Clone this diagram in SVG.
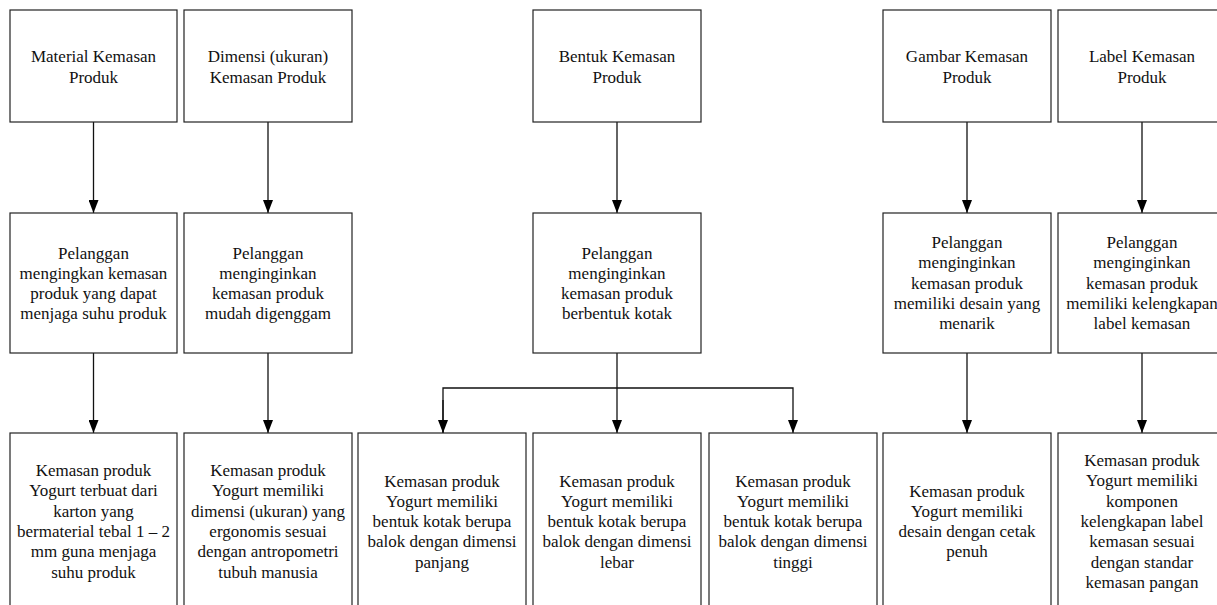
<svg xmlns="http://www.w3.org/2000/svg" width="1217" height="605" viewBox="0 0 1217 605">
<style>
.box{fill:#fff;stroke:#222;stroke-width:1.2}
.t{font-family:"Liberation Serif","Times New Roman",serif;font-size:17px;fill:#111;text-anchor:middle}
.c{fill:none;stroke:#111;stroke-width:1.3}
</style>
<defs>
<marker id="ah" viewBox="0 0 13 10" refX="13" refY="5" markerWidth="13" markerHeight="10" markerUnits="userSpaceOnUse" orient="auto">
<path d="M0,0 L13,5 L0,10 z" fill="#000"/>
</marker>
</defs>
<rect width="1217" height="605" fill="#fff"/>
<g id="connectors">
<line class="c" x1="93.5" y1="122" x2="93.5" y2="213" marker-end="url(#ah)"/>
<line class="c" x1="268" y1="122" x2="268" y2="213" marker-end="url(#ah)"/>
<line class="c" x1="617" y1="122" x2="617" y2="213" marker-end="url(#ah)"/>
<line class="c" x1="967" y1="122" x2="967" y2="213" marker-end="url(#ah)"/>
<line class="c" x1="1142" y1="122" x2="1142" y2="213" marker-end="url(#ah)"/>
<line class="c" x1="93.5" y1="353" x2="93.5" y2="433" marker-end="url(#ah)"/>
<line class="c" x1="268" y1="353" x2="268" y2="433" marker-end="url(#ah)"/>
<line class="c" x1="967" y1="353" x2="967" y2="433" marker-end="url(#ah)"/>
<line class="c" x1="1142" y1="353" x2="1142" y2="433" marker-end="url(#ah)"/>
<line class="c" x1="617" y1="353" x2="617" y2="433" marker-end="url(#ah)"/>
<polyline class="c" points="443,433 443,388 793,388 793,433" marker-end="url(#ah)"/>
<line class="c" x1="443" y1="400" x2="443" y2="433" marker-end="url(#ah)"/>
</g>
<g id="n1">
<rect class="box" x="10" y="10" width="167" height="112"/>
<text class="t"><tspan x="93.5" y="62">Material Kemasan</tspan><tspan x="93.5" y="82.5">Produk</tspan></text>
</g>
<g id="n2">
<rect class="box" x="184" y="10" width="168" height="112"/>
<text class="t"><tspan x="268" y="62">Dimensi (ukuran)</tspan><tspan x="268" y="82.5">Kemasan Produk</tspan></text>
</g>
<g id="n3">
<rect class="box" x="533" y="10" width="168" height="112"/>
<text class="t"><tspan x="617" y="62">Bentuk Kemasan</tspan><tspan x="617" y="82.5">Produk</tspan></text>
</g>
<g id="n4">
<rect class="box" x="883" y="10" width="168" height="112"/>
<text class="t"><tspan x="967" y="62">Gambar Kemasan</tspan><tspan x="967" y="82.5">Produk</tspan></text>
</g>
<g id="n5">
<rect class="box" x="1058" y="10" width="168" height="112"/>
<text class="t"><tspan x="1142" y="62">Label Kemasan</tspan><tspan x="1142" y="82.5">Produk</tspan></text>
</g>
<g id="m1">
<rect class="box" x="10" y="213" width="167" height="140"/>
<text class="t"><tspan x="93.5" y="258.5">Pelanggan</tspan><tspan x="93.5" y="278.8">mengingkan kemasan</tspan><tspan x="93.5" y="299.1">produk yang dapat</tspan><tspan x="93.5" y="319.4">menjaga suhu produk</tspan></text>
</g>
<g id="m2">
<rect class="box" x="184" y="213" width="168" height="140"/>
<text class="t"><tspan x="268" y="258.5">Pelanggan</tspan><tspan x="268" y="278.8">menginginkan</tspan><tspan x="268" y="299.1">kemasan produk</tspan><tspan x="268" y="319.4">mudah digenggam</tspan></text>
</g>
<g id="m3">
<rect class="box" x="533" y="213" width="168" height="140"/>
<text class="t"><tspan x="617" y="258.5">Pelanggan</tspan><tspan x="617" y="278.8">menginginkan</tspan><tspan x="617" y="299.1">kemasan produk</tspan><tspan x="617" y="319.4">berbentuk kotak</tspan></text>
</g>
<g id="m4">
<rect class="box" x="883" y="213" width="168" height="140"/>
<text class="t"><tspan x="967" y="248">Pelanggan</tspan><tspan x="967" y="268.3">menginginkan</tspan><tspan x="967" y="288.6">kemasan produk</tspan><tspan x="967" y="308.9">memiliki desain yang</tspan><tspan x="967" y="329.2">menarik</tspan></text>
</g>
<g id="m5">
<rect class="box" x="1058" y="213" width="168" height="140"/>
<text class="t"><tspan x="1142" y="248">Pelanggan</tspan><tspan x="1142" y="268.3">menginginkan</tspan><tspan x="1142" y="288.6">kemasan produk</tspan><tspan x="1142" y="308.9">memiliki kelengkapan</tspan><tspan x="1142" y="329.2">label kemasan</tspan></text>
</g>
<g id="b1">
<rect class="box" x="10" y="433" width="167" height="180"/>
<text class="t"><tspan x="93.5" y="476">Kemasan produk</tspan><tspan x="93.5" y="496.3">Yogurt terbuat dari</tspan><tspan x="93.5" y="516.6">karton yang</tspan><tspan x="93.5" y="536.9">bermaterial tebal 1 – 2</tspan><tspan x="93.5" y="557.2">mm guna menjaga</tspan><tspan x="93.5" y="577.5">suhu produk</tspan></text>
</g>
<g id="b2">
<rect class="box" x="184" y="433" width="168" height="180"/>
<text class="t"><tspan x="268" y="476">Kemasan produk</tspan><tspan x="268" y="496.3">Yogurt memiliki</tspan><tspan x="268" y="516.6">dimensi (ukuran) yang</tspan><tspan x="268" y="536.9">ergonomis sesuai</tspan><tspan x="268" y="557.2">dengan antropometri</tspan><tspan x="268" y="577.5">tubuh manusia</tspan></text>
</g>
<g id="b3">
<rect class="box" x="358" y="433" width="168" height="180"/>
<text class="t"><tspan x="442" y="486.5">Kemasan produk</tspan><tspan x="442" y="506.8">Yogurt memiliki</tspan><tspan x="442" y="527.1">bentuk kotak berupa</tspan><tspan x="442" y="547.4">balok dengan dimensi</tspan><tspan x="442" y="567.7">panjang</tspan></text>
</g>
<g id="b4">
<rect class="box" x="533" y="433" width="168" height="180"/>
<text class="t"><tspan x="617" y="486.5">Kemasan produk</tspan><tspan x="617" y="506.8">Yogurt memiliki</tspan><tspan x="617" y="527.1">bentuk kotak berupa</tspan><tspan x="617" y="547.4">balok dengan dimensi</tspan><tspan x="617" y="567.7">lebar</tspan></text>
</g>
<g id="b5">
<rect class="box" x="709" y="433" width="168" height="180"/>
<text class="t"><tspan x="793" y="486.5">Kemasan produk</tspan><tspan x="793" y="506.8">Yogurt memiliki</tspan><tspan x="793" y="527.1">bentuk kotak berupa</tspan><tspan x="793" y="547.4">balok dengan dimensi</tspan><tspan x="793" y="567.7">tinggi</tspan></text>
</g>
<g id="b6">
<rect class="box" x="883" y="433" width="168" height="180"/>
<text class="t"><tspan x="967" y="496.5">Kemasan produk</tspan><tspan x="967" y="516.8">Yogurt memiliki</tspan><tspan x="967" y="537.1">desain dengan cetak</tspan><tspan x="967" y="557.4">penuh</tspan></text>
</g>
<g id="b7">
<rect class="box" x="1058" y="433" width="168" height="180"/>
<text class="t"><tspan x="1142" y="466">Kemasan produk</tspan><tspan x="1142" y="486.3">Yogurt memiliki</tspan><tspan x="1142" y="506.6">komponen</tspan><tspan x="1142" y="526.9">kelengkapan label</tspan><tspan x="1142" y="547.2">kemasan sesuai</tspan><tspan x="1142" y="567.5">dengan standar</tspan><tspan x="1142" y="587.8">kemasan pangan</tspan></text>
</g>
</svg>
